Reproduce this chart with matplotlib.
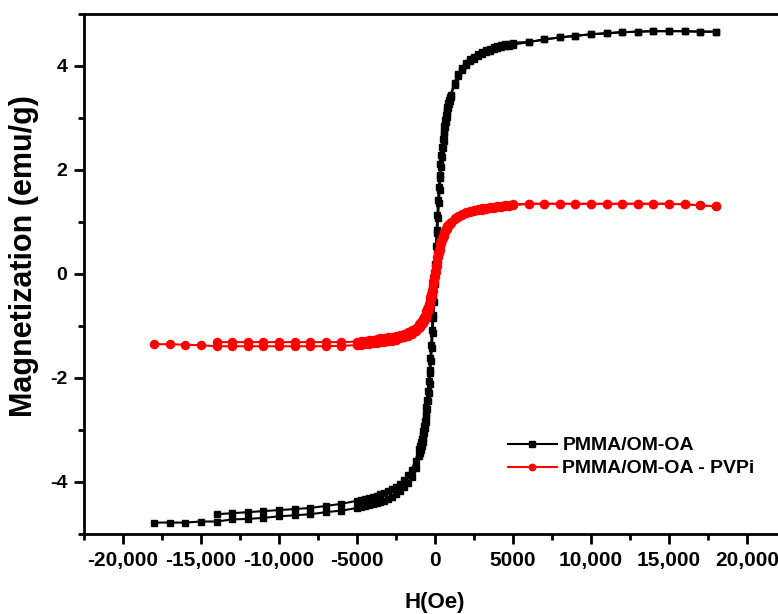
import matplotlib
matplotlib.use("Agg")
import matplotlib.pyplot as plt
from matplotlib.ticker import MultipleLocator, FixedLocator, FixedFormatter

plt.rcParams['font.family'] = ['Liberation Sans', 'DejaVu Sans']
plt.rcParams['font.weight'] = 'bold'
plt.rcParams['axes.unicode_minus'] = False

# field grid (Oe), from +18000 down to -18000
H_grid = [18000, 17000, 16000, 15000, 14000, 13000, 12000, 11000, 10000, 9000, 8000, 7000, 6000,
          5000, 4750, 4500, 4250, 4000, 3750, 3500, 3250, 3000, 2750, 2500, 2250, 2000, 1750, 1500, 1250, 1000,
          950, 900, 850, 800, 750, 700, 650, 600, 550, 500, 450, 400, 350, 300, 250, 200, 150, 100, 50, 0,
          -50, -100, -150, -200, -250, -300, -350, -400, -450, -500, -550, -600, -650, -700, -750, -800, -850, -900, -950,
          -1000, -1250, -1500, -1750, -2000, -2250, -2500, -2750, -3000, -3250, -3500, -3750, -4000, -4250, -4500, -4750, -5000,
          -6000, -7000, -8000, -9000, -10000, -11000, -12000, -13000, -14000, -15000, -16000, -17000, -18000]

# PMMA/OM-OA, descending branch (18000 -> -14000)
M_black_desc = [4.66, 4.66, 4.67, 4.67, 4.67, 4.66, 4.65, 4.63, 4.61, 4.58, 4.55, 4.51, 4.46,
                4.45, 4.43, 4.42, 4.40, 4.38, 4.36, 4.33, 4.31, 4.27, 4.23, 4.18, 4.13, 4.05, 3.96, 3.85, 3.68, 3.45,
                3.41, 3.35, 3.29, 3.21, 3.14, 3.06, 2.96, 2.85, 2.74, 2.60, 2.45, 2.28, 2.11, 1.90, 1.67, 1.42, 1.14, 0.84, 0.53, 0.20,
                -0.13, -0.46, -0.78, -1.08, -1.37, -1.62, -1.85, -2.06, -2.25, -2.42, -2.56, -2.69, -2.82, -2.92, -3.01, -3.09, -3.17, -3.24, -3.30,
                -3.36, -3.59, -3.76, -3.87, -3.96, -4.04, -4.09, -4.14, -4.18, -4.22, -4.24, -4.27, -4.29, -4.31, -4.33, -4.34, -4.36,
                -4.42, -4.46, -4.50, -4.52, -4.54, -4.56, -4.58, -4.60, -4.62]

# PMMA/OM-OA, ascending branch (listed along H_grid)
M_black_asc = [4.66, 4.66, 4.67, 4.67, 4.67, 4.66, 4.65, 4.63, 4.61, 4.58, 4.55, 4.51, 4.46,
               4.41, 4.39, 4.38, 4.36, 4.34, 4.32, 4.29, 4.27, 4.23, 4.19, 4.14, 4.09, 4.01, 3.92, 3.81, 3.64, 3.41,
               3.33, 3.27, 3.19, 3.11, 3.02, 2.92, 2.82, 2.69, 2.56, 2.42, 2.25, 2.06, 1.85, 1.62, 1.37, 1.08, 0.78, 0.46, 0.13, -0.20,
               -0.53, -0.84, -1.14, -1.42, -1.67, -1.90, -2.11, -2.28, -2.45, -2.60, -2.74, -2.85, -2.96, -3.06, -3.15, -3.23, -3.31, -3.38, -3.44,
               -3.50, -3.73, -3.90, -4.01, -4.10, -4.18, -4.23, -4.28, -4.32, -4.36, -4.38, -4.41, -4.43, -4.45, -4.47, -4.48, -4.50,
               -4.55, -4.58, -4.62, -4.64, -4.66, -4.69, -4.71, -4.72, -4.76, -4.76, -4.78, -4.78, -4.78]

# PMMA/OM-OA - PVPi, descending branch (18000 -> -14000)
M_red_desc = [1.30, 1.32, 1.34, 1.35, 1.35, 1.35, 1.35, 1.35, 1.35, 1.35, 1.35, 1.35, 1.35,
              1.34, 1.33, 1.32, 1.31, 1.30, 1.29, 1.28, 1.27, 1.26, 1.25, 1.23, 1.21, 1.19, 1.16, 1.12, 1.07, 1.00,
              0.98, 0.96, 0.94, 0.92, 0.90, 0.87, 0.84, 0.81, 0.78, 0.74, 0.70, 0.65, 0.60, 0.54, 0.47, 0.40, 0.32, 0.24, 0.15, 0.06,
              -0.04, -0.13, -0.22, -0.30, -0.38, -0.45, -0.52, -0.58, -0.63, -0.68, -0.72, -0.76, -0.80, -0.83, -0.86, -0.88, -0.90, -0.92, -0.94,
              -0.96, -1.03, -1.08, -1.12, -1.15, -1.17, -1.19, -1.21, -1.22, -1.23, -1.24, -1.25, -1.26, -1.27, -1.28, -1.29, -1.30,
              -1.31, -1.31, -1.31, -1.31, -1.31, -1.31, -1.31, -1.31, -1.31]

# PMMA/OM-OA - PVPi, ascending branch (listed along H_grid)
M_red_asc = [1.30, 1.32, 1.34, 1.35, 1.35, 1.35, 1.35, 1.35, 1.35, 1.35, 1.35, 1.35, 1.35,
             1.32, 1.31, 1.30, 1.29, 1.28, 1.27, 1.26, 1.25, 1.24, 1.23, 1.21, 1.19, 1.17, 1.14, 1.10, 1.05, 0.98,
             0.96, 0.94, 0.92, 0.90, 0.87, 0.84, 0.81, 0.78, 0.74, 0.70, 0.65, 0.60, 0.54, 0.47, 0.40, 0.32, 0.24, 0.15, 0.04, -0.06,
             -0.15, -0.24, -0.32, -0.40, -0.47, -0.54, -0.60, -0.66, -0.71, -0.76, -0.80, -0.84, -0.87, -0.90, -0.93, -0.95, -0.97, -0.99, -1.01,
             -1.03, -1.10, -1.15, -1.19, -1.22, -1.24, -1.26, -1.28, -1.29, -1.30, -1.31, -1.32, -1.33, -1.34, -1.35, -1.36, -1.37,
             -1.38, -1.39, -1.39, -1.39, -1.39, -1.39, -1.39, -1.39, -1.39, -1.37, -1.36, -1.35, -1.35]

x_ticks = [-20000, -15000, -10000, -5000, 0, 5000, 10000, 15000, 20000]
x_tick_labels = ['-20,000', '-15,000', '-10,000', '-5000', '0', '5000', '10,000', '15,000', '20,000']

fig = plt.figure(figsize=(7.78, 6.14), dpi=100)
ax = fig.add_axes([84 / 778, 80 / 614, 702 / 778, 520 / 614])

n_desc = len(M_black_desc)
ax.plot(H_grid[:n_desc], M_black_desc, '-s', color='black', lw=1.5, ms=4.8, label='PMMA/OM-OA')
ax.plot(H_grid[::-1], M_black_asc[::-1], '-s', color='black', lw=1.5, ms=4.8)
ax.plot(H_grid[:n_desc], M_red_desc, '-o', color='red', lw=1.5, ms=5.8, label='PMMA/OM-OA - PVPi')
ax.plot(H_grid[::-1], M_red_asc[::-1], '-o', color='red', lw=1.5, ms=5.8)

ax.set_xlim(-22500, 22500)
ax.set_ylim(-5, 5)
ax.xaxis.set_major_locator(FixedLocator(x_ticks))
ax.xaxis.set_major_formatter(FixedFormatter(x_tick_labels))
ax.xaxis.set_minor_locator(MultipleLocator(2500))
ax.yaxis.set_major_locator(MultipleLocator(2))
ax.yaxis.set_minor_locator(MultipleLocator(1))

for s in ['left', 'bottom', 'top', 'right']:
    ax.spines[s].set_linewidth(2)
ax.tick_params(which='major', direction='out', length=7, width=2, labelsize=14, pad=5)
ax.tick_params(which='minor', direction='out', length=4, width=2)
ax.tick_params(axis='x', which='major', labelsize=15)
for lab in ax.get_xticklabels() + ax.get_yticklabels():
    lab.set_fontweight('bold')

ax.set_xlabel('H(Oe)', fontsize=16, fontweight='bold', labelpad=16)
ax.set_ylabel('Magnetization (emu/g)', fontsize=22, fontweight='bold')
ax.yaxis.set_label_coords(-0.064, 0.535)

leg = ax.legend(loc='center left', bbox_to_anchor=(0.604, 0.148), frameon=False,
                fontsize=14, handlelength=2.5, handletextpad=0.3, labelspacing=0.28,
                borderpad=0, borderaxespad=0, numpoints=1, markerscale=0.8)
for t in leg.get_texts():
    t.set_fontweight('bold')

fig.savefig('out.png', dpi=100)
